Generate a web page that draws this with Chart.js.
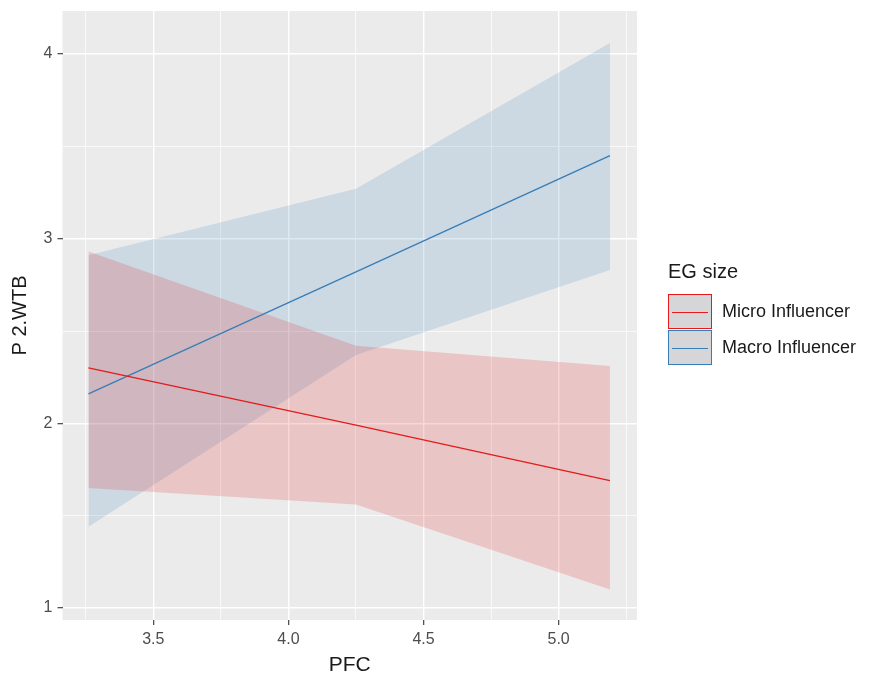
<!DOCTYPE html>
<html>
<head>
<meta charset="utf-8">
<title>P 2.WTB by PFC and EG size</title>
<script src="https://cdn.jsdelivr.net/npm/chart.js@4.4.1/dist/chart.umd.min.js"></script>
<style>
  html, body { margin: 0; padding: 0; background: #ffffff; }
  #wrap { width: 876px; height: 682px; }
</style>
</head>
<body>
<div id="wrap"><canvas id="chart" width="876" height="682"></canvas></div>
<script>
// Predictor values where the fitted effect was evaluated
const pfc = [3.26, 4.25, 5.19];

// Micro Influencer: fitted line and confidence band
const microFit   = [2.30, 1.99, 1.69];
const microLower = [1.65, 1.56, 1.10];
const microUpper = [2.93, 2.42, 2.31];

// Macro Influencer: fitted line and confidence band
const macroFit   = [2.16, 2.82, 3.45];
const macroLower = [1.44, 2.37, 2.83];
const macroUpper = [2.91, 3.27, 4.06];

// Axes
const xTicks = [3.25, 3.5, 3.75, 4.0, 4.25, 4.5, 4.75, 5.0, 5.25];
const xLabelled = [3.5, 4.0, 4.5, 5.0];
const yTicks = [1, 1.5, 2, 2.5, 3, 3.5, 4];
const yLabelled = [1, 2, 3, 4];
const xTitle = 'PFC';
const yTitle = 'P 2.WTB';

// Legend
const legendTitle = 'EG size';
const seriesNames = ['Micro Influencer', 'Macro Influencer'];

const RED = '#E41A1C';
const BLUE = '#377EB8';
const RED_FILL = 'rgba(228,26,28,0.18)';
const BLUE_FILL = 'rgba(55,126,184,0.17)';
const FONT = "'Liberation Sans', Arial, sans-serif";

const pts = ys => pfc.map((x, i) => ({ x: x, y: ys[i] }));
const isMajor = (list, v) => list.some(m => Math.abs(m - v) < 1e-9);

const panelBackground = {
  id: 'panelBackground',
  beforeDraw(chart) {
    const { ctx, chartArea: a } = chart;
    ctx.save();
    ctx.fillStyle = '#EBEBEB';
    ctx.fillRect(a.left, a.top, a.right - a.left, a.bottom - a.top);
    ctx.restore();
  }
};

const keyLegend = {
  id: 'keyLegend',
  afterDraw(chart) {
    const ctx = chart.ctx;
    const x0 = 668, titleY = 272;
    const keyW = 44, keyH = 35, firstKeyY = 294;
    const colors = [RED, BLUE];
    ctx.save();
    ctx.fillStyle = '#1a1a1a';
    ctx.font = '20px ' + FONT;
    ctx.textBaseline = 'middle';
    ctx.textAlign = 'left';
    ctx.fillText(legendTitle, x0, titleY);
    seriesNames.forEach((name, i) => {
      const y = firstKeyY + i * (keyH + 1);
      ctx.fillStyle = '#D6D6D8';
      ctx.fillRect(x0, y, keyW, keyH);
      ctx.strokeStyle = colors[i];
      ctx.lineWidth = 1;
      ctx.strokeRect(x0 + 0.5, y + 0.5, keyW - 1, keyH - 1);
      ctx.beginPath();
      ctx.strokeStyle = colors[i];
      ctx.lineWidth = 1.2;
      ctx.moveTo(x0 + 4, Math.round(y + keyH / 2) + 0.5);
      ctx.lineTo(x0 + keyW - 4, Math.round(y + keyH / 2) + 0.5);
      ctx.stroke();
      ctx.fillStyle = '#1a1a1a';
      ctx.font = '18px ' + FONT;
      ctx.fillText(name, x0 + keyW + 10, y + keyH / 2 + 1);
    });
    ctx.restore();
  }
};

const gridWidth = c => (c.tick && c.tick.major === false ? 0.7 : 1.4);
const tickColor = c => (c.tick && c.tick.major === false ? 'rgba(0,0,0,0)' : '#333333');

new Chart(document.getElementById('chart'), {
  type: 'line',
  data: {
    datasets: [
      { label: seriesNames[0], data: pts(microFit), borderColor: RED, borderWidth: 1.3, pointRadius: 0, fill: false, tension: 0 },
      { label: seriesNames[1], data: pts(macroFit), borderColor: BLUE, borderWidth: 1.3, pointRadius: 0, fill: false, tension: 0 },
      { label: 'micro upper', data: pts(microUpper), borderWidth: 0, borderColor: 'rgba(0,0,0,0)', pointRadius: 0, backgroundColor: RED_FILL, fill: '+1', tension: 0 },
      { label: 'micro lower', data: pts(microLower), borderWidth: 0, borderColor: 'rgba(0,0,0,0)', pointRadius: 0, fill: false, tension: 0 },
      { label: 'macro upper', data: pts(macroUpper), borderWidth: 0, borderColor: 'rgba(0,0,0,0)', pointRadius: 0, backgroundColor: BLUE_FILL, fill: '+1', tension: 0 },
      { label: 'macro lower', data: pts(macroLower), borderWidth: 0, borderColor: 'rgba(0,0,0,0)', pointRadius: 0, fill: false, tension: 0 }
    ]
  },
  options: {
    responsive: false,
    animation: false,
    devicePixelRatio: 1,
    events: [],
    layout: { padding: { top: 11, right: 239, left: 0, bottom: 0 } },
    plugins: {
      legend: { display: false },
      tooltip: { enabled: false },
      filler: { propagate: false }
    },
    scales: {
      x: {
        type: 'linear',
        min: 3.164,
        max: 5.29,
        afterFit(scale) { scale.height = 62; },
        afterBuildTicks(scale) {
          scale.ticks = xTicks.map(v => ({ value: v, major: isMajor(xLabelled, v) }));
        },
        border: { display: false },
        grid: {
          color: '#FFFFFF',
          lineWidth: gridWidth,
          drawTicks: true,
          tickLength: 5,
          tickWidth: 1.1,
          tickColor: tickColor
        },
        ticks: {
          autoSkip: false,
          maxRotation: 0,
          padding: 5,
          color: '#4D4D4D',
          font: { family: FONT, size: 16 },
          callback: v => (isMajor(xLabelled, v) ? v.toFixed(1) : '')
        },
        title: {
          display: true,
          text: xTitle,
          color: '#1a1a1a',
          font: { family: FONT, size: 21 },
          padding: { top: 0, bottom: 4 }
        }
      },
      y: {
        type: 'linear',
        min: 0.935,
        max: 4.233,
        afterFit(scale) {
          scale.width = 62.5;
          // panel edges are set by the layout padding, not by label overflow
          scale.paddingTop = 0;
          scale.paddingBottom = 0;
        },
        afterBuildTicks(scale) {
          scale.ticks = yTicks.map(v => ({ value: v, major: isMajor(yLabelled, v) }));
        },
        border: { display: false },
        grid: {
          color: '#FFFFFF',
          lineWidth: gridWidth,
          drawTicks: true,
          tickLength: 5,
          tickWidth: 1.1,
          tickColor: tickColor
        },
        ticks: {
          autoSkip: false,
          padding: 5,
          color: '#4D4D4D',
          font: { family: FONT, size: 16 },
          callback: v => (isMajor(yLabelled, v) ? String(v) : '')
        },
        title: {
          display: true,
          text: yTitle,
          color: '#1a1a1a',
          font: { family: FONT, size: 20 },
          padding: { top: 8, bottom: 0 }
        }
      }
    }
  },
  plugins: [panelBackground, keyLegend]
});
</script>
</body>
</html>
